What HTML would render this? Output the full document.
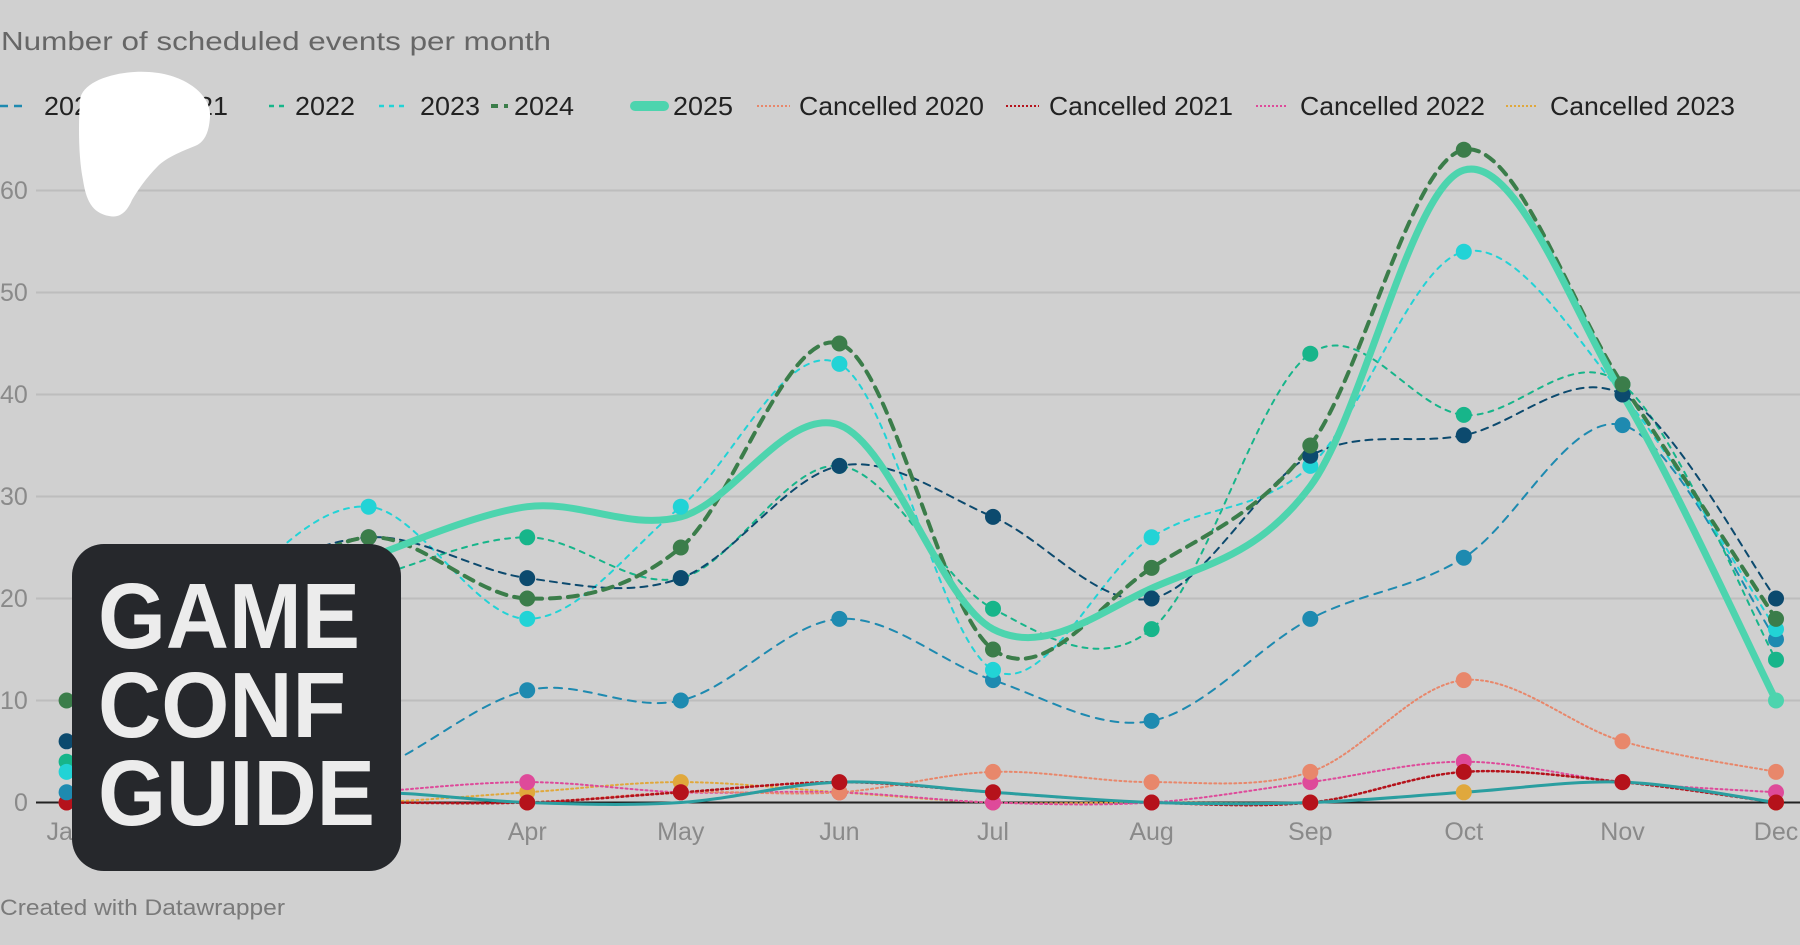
<!DOCTYPE html>
<html><head><meta charset="utf-8"><style>
html,body{margin:0;padding:0;background:#d0d0d0;}
svg{display:block;font-family:"Liberation Sans",Arial,sans-serif;}
</style></head><body>
<svg id="c" width="1800" height="945" viewBox="0 0 1800 945" xmlns="http://www.w3.org/2000/svg">
<rect width="1800" height="945" fill="#d0d0d0"/>
<text x="1" y="50" font-size="26" fill="#666" textLength="550" lengthAdjust="spacingAndGlyphs">Number of scheduled events per month</text>
<g font-size="26" fill="#222">
<line x1="0" y1="106" x2="28" y2="106" stroke="#1e8ab0" stroke-width="2.5" stroke-dasharray="8 6"/>
<text x="44" y="115" textLength="60" lengthAdjust="spacingAndGlyphs">2020</text>
<line x1="138" y1="106" x2="166" y2="106" stroke="#0c4a6e" stroke-width="2.5" stroke-dasharray="8 6"/>
<text x="168" y="115" textLength="60" lengthAdjust="spacingAndGlyphs">2021</text>
<line x1="269" y1="106" x2="287" y2="106" stroke="#17b58a" stroke-width="2.5" stroke-dasharray="5 5"/>
<text x="295" y="115" textLength="60" lengthAdjust="spacingAndGlyphs">2022</text>
<line x1="379" y1="106" x2="408" y2="106" stroke="#22d3d6" stroke-width="2.5" stroke-dasharray="5 5"/>
<text x="420" y="115" textLength="60" lengthAdjust="spacingAndGlyphs">2023</text>
<line x1="491" y1="106" x2="508" y2="106" stroke="#3b7d4a" stroke-width="4" stroke-dasharray="7 6"/>
<text x="514" y="115" textLength="60" lengthAdjust="spacingAndGlyphs">2024</text>
<line x1="635" y1="106" x2="664" y2="106" stroke="#4dd4ae" stroke-width="10" stroke-linecap="round"/>
<text x="673" y="115" textLength="60" lengthAdjust="spacingAndGlyphs">2025</text>
<line x1="757" y1="106" x2="790" y2="106" stroke="#e8876b" stroke-width="2" stroke-dasharray="2 2"/>
<text x="799" y="115" textLength="185" lengthAdjust="spacingAndGlyphs">Cancelled 2020</text>
<line x1="1006" y1="106" x2="1039" y2="106" stroke="#b5121b" stroke-width="2" stroke-dasharray="2 2"/>
<text x="1049" y="115" textLength="184" lengthAdjust="spacingAndGlyphs">Cancelled 2021</text>
<line x1="1256" y1="106" x2="1288" y2="106" stroke="#de4a9a" stroke-width="2" stroke-dasharray="2 2"/>
<text x="1300" y="115" textLength="185" lengthAdjust="spacingAndGlyphs">Cancelled 2022</text>
<line x1="1506" y1="106" x2="1538" y2="106" stroke="#e0a83c" stroke-width="2" stroke-dasharray="2 2"/>
<text x="1550" y="115" textLength="185" lengthAdjust="spacingAndGlyphs">Cancelled 2023</text>
</g>
<g stroke="#bdbdbd" stroke-width="2">
<line x1="36" y1="190.5" x2="1800" y2="190.5"/>
<line x1="36" y1="292.5" x2="1800" y2="292.5"/>
<line x1="36" y1="394.5" x2="1800" y2="394.5"/>
<line x1="36" y1="496.5" x2="1800" y2="496.5"/>
<line x1="36" y1="598.5" x2="1800" y2="598.5"/>
<line x1="36" y1="700.5" x2="1800" y2="700.5"/>
</g>
<g font-size="25" fill="#8a8a8a">
<text x="0" y="199">60</text><text x="0" y="301">50</text><text x="0" y="403">40</text>
<text x="0" y="505">30</text><text x="0" y="607">20</text><text x="0" y="709">10</text><text x="14" y="811">0</text>
</g>
<g font-size="25" fill="#8a8a8a" text-anchor="middle">
<text x="66.6" y="840">Jan</text><text x="225.3" y="840">Feb</text><text x="368.6" y="840">Mar</text>
<text x="527.2" y="840">Apr</text><text x="680.8" y="840">May</text><text x="839.4" y="840">Jun</text>
<text x="993" y="840">Jul</text><text x="1151.6" y="840">Aug</text><text x="1310.3" y="840">Sep</text>
<text x="1463.8" y="840">Oct</text><text x="1622.5" y="840">Nov</text><text x="1776" y="840">Dec</text>
</g>
<line x1="36" y1="802.5" x2="1800" y2="802.5" stroke="#222" stroke-width="2"/>
<g id="series"></g>
<text x="0" y="915" font-size="22" fill="#7a7a7a" textLength="285" lengthAdjust="spacingAndGlyphs">Created with Datawrapper</text>
<rect x="72" y="544" width="329" height="327" rx="32" fill="#26282c"/>
<g font-size="93" font-weight="bold" fill="#ececec">
<text x="98" y="648" textLength="262" lengthAdjust="spacingAndGlyphs">GAME</text>
<text x="98" y="737" textLength="248" lengthAdjust="spacingAndGlyphs">CONF</text>
<text x="98" y="825" textLength="277" lengthAdjust="spacingAndGlyphs">GUIDE</text>
</g>
<path d="M80,100 C82,80 120,70 149,72 C185,74 212,95 210,117 C209,132 205,142 195,146 C180,152 166,158 158,166 C146,178 138,190 132,200 C126,214 118,218 109,216 C92,213 86,200 83,180 C79,160 78,130 80,100 Z" fill="#fff"/>
</svg>
<script>
(function(){
var D=[0,31,59,90,120,151,181,212,243,273,304,334];
var X=function(i){return 66.6+D[i]*(1776-66.6)/334;},Y=function(v){return 802.5-10.2*v;};
var S=[
{d:[0,0,0,1,2,1,0,0,0,1,2,0],c:"#e0a83c",w:2,da:"2 3"},
{d:[0,0,1,2,1,1,0,0,2,4,2,1],c:"#de4a9a",w:2,da:"2 3"},
{d:[0,0,0,0,1,1,3,2,3,12,6,3],c:"#e8876b",w:2,da:"2 3"},
{d:[0,0,0,0,1,2,1,0,0,3,2,0],c:"#b5121b",w:2.5,da:"2 3"},
{d:[0,0,1,0,0,2,1,0,0,1,2,0],c:"#2a9ea0",w:3,da:"",nm:1},
{d:[1,1,3,11,10,18,12,8,18,24,37,16],c:"#1e8ab0",w:2,da:"8 7"},
{d:[4,18,22,26,22,33,19,17,44,38,41,14],c:"#17b58a",w:2,da:"5 6"},
{d:[3,20,29,18,29,43,13,26,33,54,40,17],c:"#22d3d6",w:2,da:"5 6"},
{d:[6,20,26,22,22,33,28,20,34,36,40,20],c:"#0c4a6e",w:2,da:"7 6"},
{d:[10,18,26,20,25,45,15,23,35,64,41,18],c:"#3b7d4a",w:4,da:"10 8"},
{d:[null,null,24,29,28,37,17,21,31,62,40,10],c:"#4dd4ae",w:7,da:"",last:1}
];
var g=document.getElementById("series"),out="";
S.forEach(function(s){
 var p=[];s.d.forEach(function(v,i){if(v!==null)p.push([X(i),Y(v)]);});
 var d="M"+p[0][0].toFixed(1)+","+p[0][1].toFixed(1);
 for(var i=0;i<p.length-1;i++){
  var p0=p[i-1]||p[i],p1=p[i],p2=p[i+1],p3=p[i+2]||p2;
  var c1x=p1[0]+(p2[0]-p0[0])/6,c1y=p1[1]+(p2[1]-p0[1])/6;
  var c2x=p2[0]-(p3[0]-p1[0])/6,c2y=p2[1]-(p3[1]-p1[1])/6;
  d+=" C"+c1x.toFixed(1)+","+c1y.toFixed(1)+" "+c2x.toFixed(1)+","+c2y.toFixed(1)+" "+p2[0].toFixed(1)+","+p2[1].toFixed(1);
 }
 out+='<path d="'+d+'" fill="none" stroke="'+s.c+'" stroke-width="'+s.w+'"'+(s.da?' stroke-dasharray="'+s.da+'"':'')+' stroke-linecap="round"/>';
 s.pts=p;
});
S.forEach(function(s){
 if(s.nm)return;
 var pts=s.last?[s.pts[s.pts.length-1]]:s.pts;
 pts.forEach(function(q){out+='<circle cx="'+q[0].toFixed(1)+'" cy="'+q[1].toFixed(1)+'" r="8" fill="'+s.c+'"/>';});
});
g.innerHTML=out;
})();
</script>
</body></html>
